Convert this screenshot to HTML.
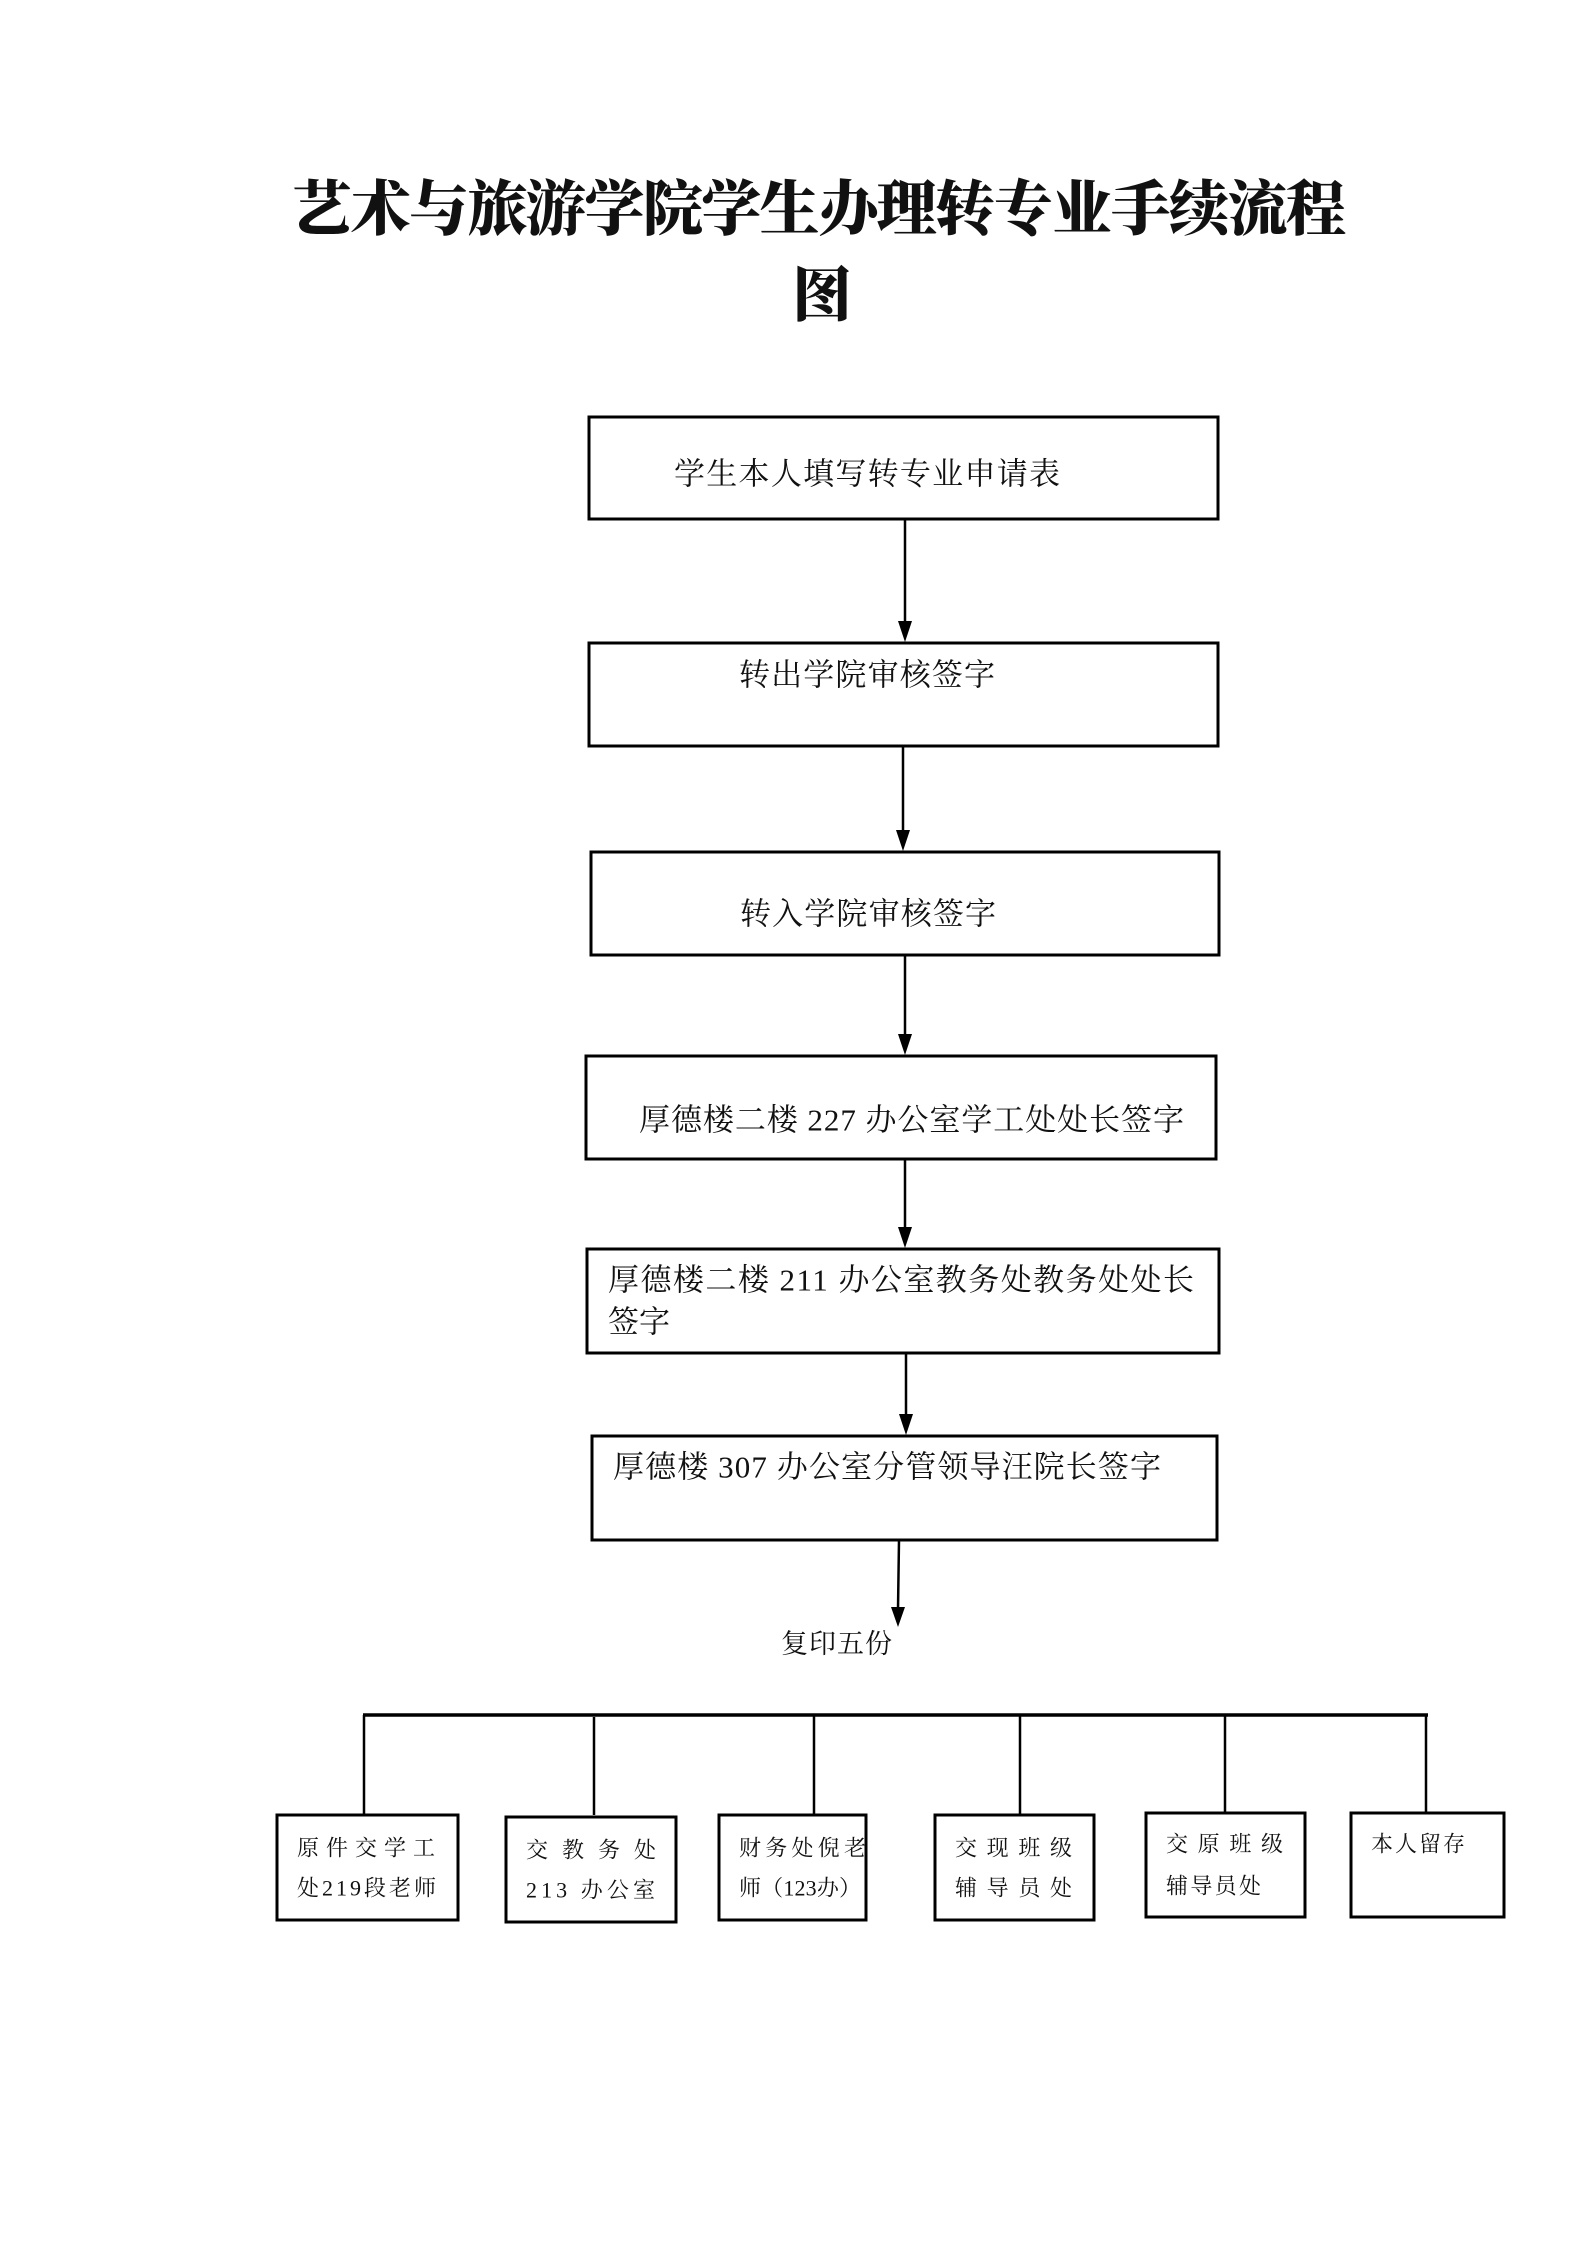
<!DOCTYPE html>
<html><head><meta charset="utf-8"><style>
html,body{margin:0;padding:0;background:#fff;}
svg{display:block;}
text{font-family:"Liberation Serif","Noto Serif CJK SC",serif;fill:#111;}
.t{font-family:"Noto Serif CJK SC","Liberation Serif",serif;font-weight:900;font-size:60px;}
.m{font-size:31px;dominant-baseline:central;}
.s{font-size:22px;dominant-baseline:central;}
</style></head><body>
<svg width="1587" height="2245" viewBox="0 0 1587 2245" xmlns="http://www.w3.org/2000/svg">
<text class="t" x="292" y="230" textLength="1054" lengthAdjust="spacing">艺术与旅游学院学生办理转专业手续流程</text>
<text class="t" x="792" y="316">图</text>
<g fill="none" stroke="#000" stroke-width="3">
<rect x="589" y="417" width="629" height="102"/>
<rect x="589" y="643" width="629" height="103"/>
<rect x="591" y="852" width="628" height="103"/>
<rect x="586" y="1056" width="630" height="103"/>
<rect x="587" y="1249" width="632" height="104"/>
<rect x="592" y="1436" width="625" height="104"/>
<rect x="277" y="1815" width="181" height="105"/>
<rect x="506" y="1817" width="170" height="105"/>
<rect x="719" y="1815" width="147" height="105"/>
<rect x="935" y="1815" width="159" height="105"/>
<rect x="1146" y="1813" width="159" height="104"/>
<rect x="1351" y="1813" width="153" height="104"/>
</g>
<g stroke="#000" stroke-width="2.5">
<line x1="905" y1="519" x2="905" y2="625"/>
<line x1="903" y1="746" x2="903" y2="834"/>
<line x1="905" y1="955" x2="905" y2="1038"/>
<line x1="905" y1="1159" x2="905" y2="1231"/>
<line x1="906" y1="1353" x2="906" y2="1418"/>
<line x1="899" y1="1540" x2="898" y2="1609"/>
<line x1="363" y1="1715" x2="1428" y2="1715" stroke-width="3.5"/>
<line x1="364" y1="1715" x2="364" y2="1815"/>
<line x1="594" y1="1717" x2="594" y2="1815"/>
<line x1="814" y1="1715" x2="814" y2="1815"/>
<line x1="1020" y1="1715" x2="1020" y2="1815"/>
<line x1="1225" y1="1715" x2="1225" y2="1813"/>
<line x1="1426" y1="1715" x2="1426" y2="1813"/>
</g>
<g fill="#000">
<path d="M898,621 L912,621 L905,642 z"/>
<path d="M896,830 L910,830 L903,851 z"/>
<path d="M898,1034 L912,1034 L905,1055 z"/>
<path d="M898,1227 L912,1227 L905,1248 z"/>
<path d="M899,1414 L913,1414 L906,1435 z"/>
<path d="M891,1607 L905,1607 L898,1627 z"/>
</g>
<text class="m" x="674" y="474" textLength="386" lengthAdjust="spacing">学生本人填写转专业申请表</text>
<text class="m" x="739" y="675" textLength="256" lengthAdjust="spacing">转出学院审核签字</text>
<text class="m" x="740" y="914" textLength="256" lengthAdjust="spacing">转入学院审核签字</text>
<text class="m" x="639" y="1120" textLength="545" lengthAdjust="spacing">厚德楼二楼 227 办公室学工处处长签字</text>
<text class="m" x="608" y="1280" textLength="586" lengthAdjust="spacing">厚德楼二楼 211 办公室教务处教务处处长</text>
<text class="m" x="608" y="1322">签字</text>
<text class="m" x="613" y="1467" textLength="548" lengthAdjust="spacing">厚德楼 307 办公室分管领导汪院长签字</text>
<text class="m" x="781" y="1644" style="font-size:27px" textLength="111" lengthAdjust="spacing">复印五份</text>
<g>
<text class="s" x="297" y="1848" textLength="138" lengthAdjust="spacing">原件交学工</text>
<text class="s" x="297" y="1888" textLength="139" lengthAdjust="spacing">处219段老师</text>
<text class="s" x="526" y="1850" textLength="130" lengthAdjust="spacing">交教务处</text>
<text class="s" x="526" y="1890" textLength="129" lengthAdjust="spacing">213 办公室</text>
<text class="s" x="739" y="1848" textLength="127" lengthAdjust="spacing">财务处倪老</text>
<text class="s" x="739" y="1888" textLength="122" lengthAdjust="spacing">师（123办）</text>
<text class="s" x="955" y="1848" textLength="117" lengthAdjust="spacing">交现班级</text>
<text class="s" x="955" y="1888" textLength="117" lengthAdjust="spacing">辅导员处</text>
<text class="s" x="1166" y="1844" textLength="117" lengthAdjust="spacing">交原班级</text>
<text class="s" x="1166" y="1886" textLength="95" lengthAdjust="spacing">辅导员处</text>
<text class="s" x="1371" y="1844" textLength="94" lengthAdjust="spacing">本人留存</text>
</g>
</svg>
</body></html>
